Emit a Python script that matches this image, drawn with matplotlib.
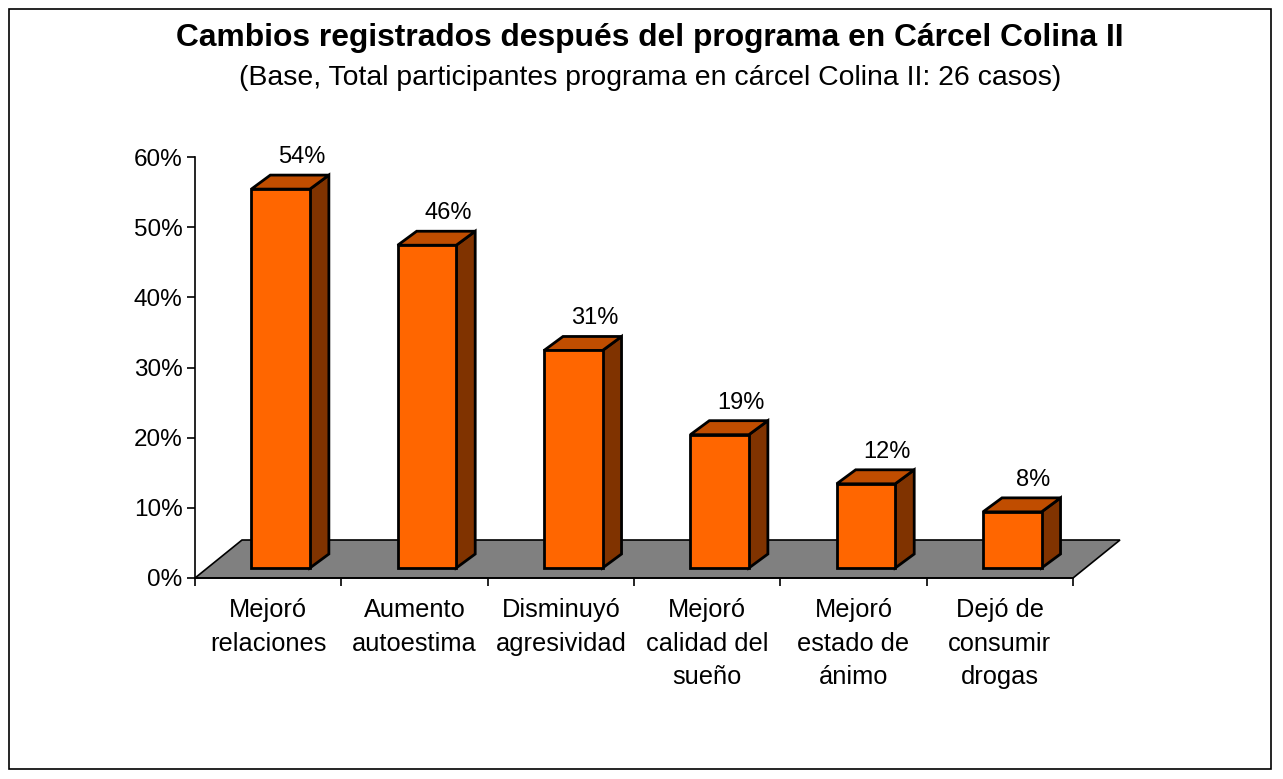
import matplotlib
matplotlib.use("Agg")
import matplotlib.pyplot as plt
from matplotlib.patches import Polygon, Rectangle

categories = ["Mejoró\nrelaciones", "Aumento\nautoestima", "Disminuyó\nagresividad",
              "Mejoró\ncalidad del\nsueño", "Mejoró\nestado de\nánimo", "Dejó de\nconsumir\ndrogas"]
values = [54, 46, 31, 19, 12, 8]
value_labels = ["54%", "46%", "31%", "19%", "12%", "8%"]
yticks = [0, 10, 20, 30, 40, 50, 60]
ytick_labels = ["0%", "10%", "20%", "30%", "40%", "50%", "60%"]
title = "Cambios registrados después del programa en Cárcel Colina II"
subtitle = "(Base, Total participantes programa en cárcel Colina II: 26 casos)"

plt.rcParams['font.family'] = ['Liberation Sans', 'DejaVu Sans']

W, H = 1283, 779
fig = plt.figure(figsize=(W / 100, H / 100), dpi=100)
fig.patch.set_facecolor("white")

# outer frame
fig.add_artist(Rectangle((9 / W, (H - 769) / H), (1271 - 9) / W, (769 - 9) / H,
                         transform=fig.transFigure, fill=False, edgecolor="black", lw=1.2))

ax_l, ax_r, ax_b, ax_t = 195, 1073, 578, 157
ax = fig.add_axes([ax_l / W, (H - ax_b) / H, (ax_r - ax_l) / W, (ax_b - ax_t) / H])
ax.set_xlim(0, len(values))
ax.set_ylim(0, 60)
ax.set_facecolor("none")

px_x = len(values) / (ax_r - ax_l)   # data units per pixel (x)
px_y = 60 / (ax_b - ax_t)            # data units per pixel (y)

# floor
fdx, fdy = 47 * px_x, 38 * px_y
n = len(values)
floor = Polygon([(0, 0), (n, 0), (n + fdx, fdy), (fdx, fdy)], closed=True,
                facecolor="#808080", edgecolor="black", lw=1.2, clip_on=False, zorder=1)
ax.add_patch(floor)

# bars
front_off = 0.385
bw = 0.40
by0 = 10 * px_y                    # front shift of bar within floor depth
ddx, ddy = 19 * px_x, 14 * px_y    # bar depth
front_col = "#FF6600"
top_col = "#C04D00"
side_col = "#803300"
for i, v in enumerate(values):
    x0 = i + front_off
    x1 = x0 + bw
    yb = by0
    yt = by0 + v
    side = Polygon([(x1, yb), (x1 + ddx, yb + ddy), (x1 + ddx, yt + ddy), (x1, yt)],
                   closed=True, facecolor=side_col, edgecolor="black", lw=2, clip_on=False, zorder=3)
    top = Polygon([(x0, yt), (x1, yt), (x1 + ddx, yt + ddy), (x0 + ddx, yt + ddy)],
                  closed=True, facecolor=top_col, edgecolor="black", lw=2, clip_on=False, zorder=3)
    front = Polygon([(x0, yb), (x1, yb), (x1, yt), (x0, yt)], closed=True,
                    facecolor=front_col, edgecolor="black", lw=2, clip_on=False, zorder=4)
    for p in (side, top, front):
        p.set_joinstyle("miter")
        ax.add_patch(p)
    ax.text((x0 + x1) / 2 + ddx + 2 * px_x, yt + ddy + 18 * px_y, value_labels[i], ha="center",
            va="center", fontsize=17, clip_on=False, zorder=5)

# axes styling
for s in ("top", "right"):
    ax.spines[s].set_visible(False)
ax.spines["left"].set_linewidth(1.2)
ax.spines["bottom"].set_linewidth(1.2)
ax.set_yticks(yticks)
ax.set_yticklabels(ytick_labels, fontsize=17.5)
ax.set_xticks(range(n + 1))
ax.set_xticklabels([])
ax.tick_params(axis="y", direction="out", length=6, width=1.2, pad=3)
ax.tick_params(axis="x", direction="out", length=6, width=1.2)
for i, c in enumerate(categories):
    ax.text(i + 0.5, -2.9, c, ha="center", va="top", fontsize=18.3, linespacing=1.5, clip_on=False)

fig.text(650 / W, (H - 38) / H, title, ha="center", va="center", fontsize=22.9, fontweight="bold")
fig.text(650 / W, (H - 78) / H, subtitle, ha="center", va="center", fontsize=20.4)

fig.savefig("out.png", dpi=100, facecolor="white")
